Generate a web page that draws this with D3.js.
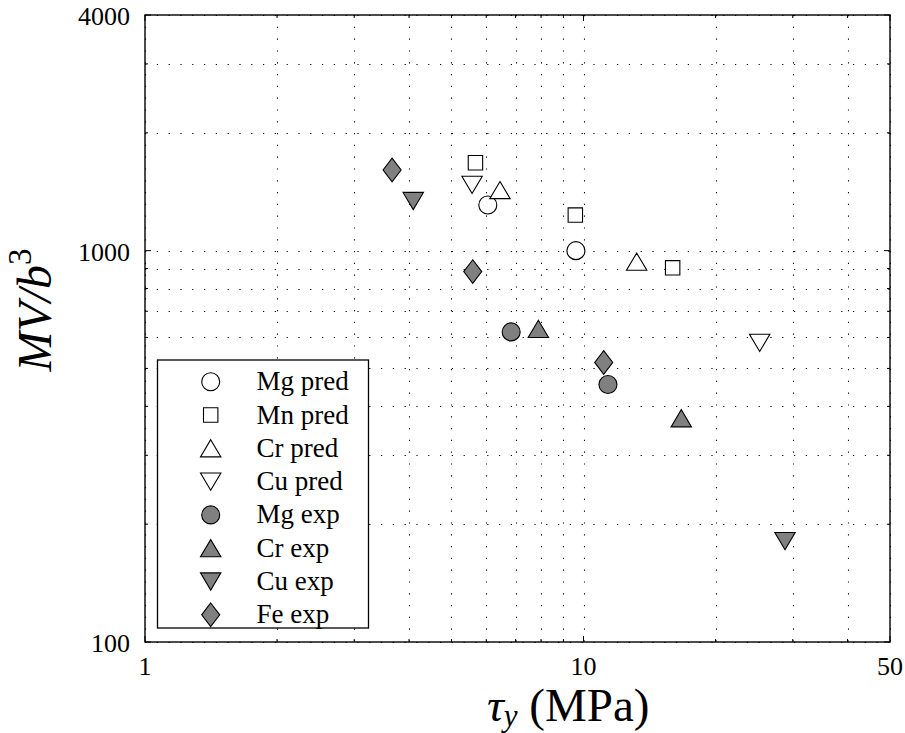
<!DOCTYPE html>
<html><head><meta charset="utf-8">
<script src="https://cdn.jsdelivr.net/npm/d3@7"></script>
<style>body{margin:0;background:#fff} svg{display:block}</style>
</head><body>
<svg id="chart" width="905" height="733"></svg>
<script>
// ---- data ----
const xTickValues = [1, 10, 50];
const xTickLabels = ["1", "10", "50"];
const yTickValues = [100, 1000, 4000];
const yTickLabels = ["100", "1000", "4000"];

const seriesNames = ["Mg pred", "Mn pred", "Cr pred", "Cu pred", "Mg exp", "Cr exp", "Cu exp", "Fe exp"];

const mgPredX = [6.05, 9.61];          const mgPredY = [1308, 1000];
const mnPredX = [5.67, 9.58, 15.97];   const mnPredY = [1677, 1233, 904];
const crPredX = [6.45, 13.22];         const crPredY = [1428, 937];
const cuPredX = [5.57, 25.22];         const cuPredY = [1472, 581];
const mgExpX  = [6.84, 11.37];         const mgExpY  = [620, 455];
const crExpX  = [7.89, 16.71];         const crExpY  = [631, 373];
const cuExpX  = [4.09, 28.81];         const cuExpY  = [1339, 181];
const feExpX  = [3.66, 5.59, 11.12];   const feExpY  = [1607, 884, 518];

const seriesX = [mgPredX, mnPredX, crPredX, cuPredX, mgExpX, crExpX, cuExpX, feExpX];
const seriesY = [mgPredY, mnPredY, crPredY, cuPredY, mgExpY, crExpY, cuExpY, feExpY];

// ---- styles ----
const shapes = ["circle", "square", "up", "down", "circle", "up", "down", "diamond"];
const fills  = ["#fff", "#fff", "#fff", "#fff", "#808080", "#808080", "#808080", "#808080"];

function markerPath(shape) {
  const p = d3.path();
  if (shape === "circle") { p.moveTo(9, 0); p.arc(0, 0, 9, 0, 2 * Math.PI); }
  else if (shape === "square") { p.rect(-7.2, -7.2, 14.4, 14.4); }
  else if (shape === "up") { p.moveTo(0, -8.6); p.lineTo(10.2, 8.6); p.lineTo(-10.2, 8.6); p.closePath(); }
  else if (shape === "down") { p.moveTo(0, 8.6); p.lineTo(10.2, -8.6); p.lineTo(-10.2, -8.6); p.closePath(); }
  else if (shape === "diamond") { p.moveTo(0, -11.8); p.lineTo(9, 0); p.lineTo(0, 11.8); p.lineTo(-9, 0); p.closePath(); }
  return p.toString();
}

const svg = d3.select("#chart");
const L = 145, R = 890, T = 15, B = 642;
const x = d3.scaleLog().domain([1, 50]).range([L, R]);
const y = d3.scaleLog().domain([100, 4000]).range([B, T]);

const serif = "'Liberation Serif', 'Times New Roman', serif";

// grid
const grid = svg.append("g").attr("stroke", "#000").attr("stroke-width", 1.1)
  .attr("stroke-dasharray", "1.2,10.6").attr("fill", "none");
x.ticks().forEach(v => {
  grid.append("line").attr("x1", Math.round(x(v)) + 0.5).attr("x2", Math.round(x(v)) + 0.5)
    .attr("y1", T).attr("y2", B);
});
y.ticks().forEach(v => {
  grid.append("line").attr("y1", Math.round(y(v)) + 0.5).attr("y2", Math.round(y(v)) + 0.5)
    .attr("x1", L).attr("x2", R);
});

// ticks (inward on all sides)
const tk = svg.append("g").attr("stroke", "#000").attr("stroke-width", 1);
x.ticks().forEach(v => {
  const len = xTickValues.includes(v) ? 6 : 3;
  const px = x(v);
  tk.append("line").attr("x1", px).attr("x2", px).attr("y1", B).attr("y2", B - len);
  tk.append("line").attr("x1", px).attr("x2", px).attr("y1", T).attr("y2", T + len);
});
y.ticks().forEach(v => {
  const len = yTickValues.includes(v) ? 6 : 3;
  const py = y(v);
  tk.append("line").attr("y1", py).attr("y2", py).attr("x1", L).attr("x2", L + len);
  tk.append("line").attr("y1", py).attr("y2", py).attr("x1", R).attr("x2", R - len);
});

// frame
svg.append("rect").attr("x", L).attr("y", T).attr("width", R - L).attr("height", B - T)
  .attr("fill", "none").attr("stroke", "#000").attr("stroke-width", 1.4);

// tick labels
svg.append("g").selectAll("text").data(xTickValues).join("text")
  .attr("x", d => x(d)).attr("y", 675).attr("text-anchor", "middle")
  .attr("font-family", serif).attr("font-size", 26)
  .text((d, i) => xTickLabels[i]);
svg.append("g").selectAll("text").data(yTickValues).join("text")
  .attr("x", 130).attr("y", d => y(d) + 10).attr("text-anchor", "end")
  .attr("font-family", serif).attr("font-size", 26)
  .text((d, i) => yTickLabels[i]);

// axis labels
const xl = svg.append("text").attr("x", 487).attr("y", 721)
  .attr("font-family", serif).attr("font-size", 47);
xl.append("tspan").attr("font-style", "italic").text("τ");
xl.append("tspan").attr("font-style", "italic").attr("font-size", 31).attr("dy", 5).text("y");
xl.append("tspan").attr("dy", -5).text(" (MPa)");

const yl = svg.append("text").attr("transform", "translate(51,310) rotate(-90)")
  .attr("text-anchor", "middle").attr("font-family", serif).attr("font-size", 48)
  .attr("font-style", "italic");
yl.append("tspan").text("MV/b");
yl.append("tspan").attr("font-size", 33).attr("font-style", "normal").attr("dy", -20).text("3");

// markers
seriesNames.forEach((name, i) => {
  const pts = seriesX[i].map((vx, j) => [vx, seriesY[i][j]]);
  svg.append("g").selectAll("path").data(pts).join("path")
    .attr("transform", d => `translate(${x(d[0])},${y(d[1])})`)
    .attr("d", markerPath(shapes[i]))
    .attr("fill", fills[i]).attr("stroke", "#000").attr("stroke-width", 1.1);
});

// legend
const lg = svg.append("g");
lg.append("rect").attr("x", 157.5).attr("y", 360).attr("width", 211).attr("height", 268)
  .attr("fill", "#fff").attr("stroke", "#000").attr("stroke-width", 1.3);
seriesNames.forEach((name, i) => {
  const cy = 381.7 + i * 33.3;
  lg.append("path").attr("transform", `translate(210.7,${cy})`).attr("d", markerPath(shapes[i]))
    .attr("fill", fills[i]).attr("stroke", "#000").attr("stroke-width", 1.1);
  lg.append("text").attr("x", 256.5).attr("y", cy + 8.5).attr("font-family", serif)
    .attr("font-size", 27).text(name);
});
</script>
</body></html>
